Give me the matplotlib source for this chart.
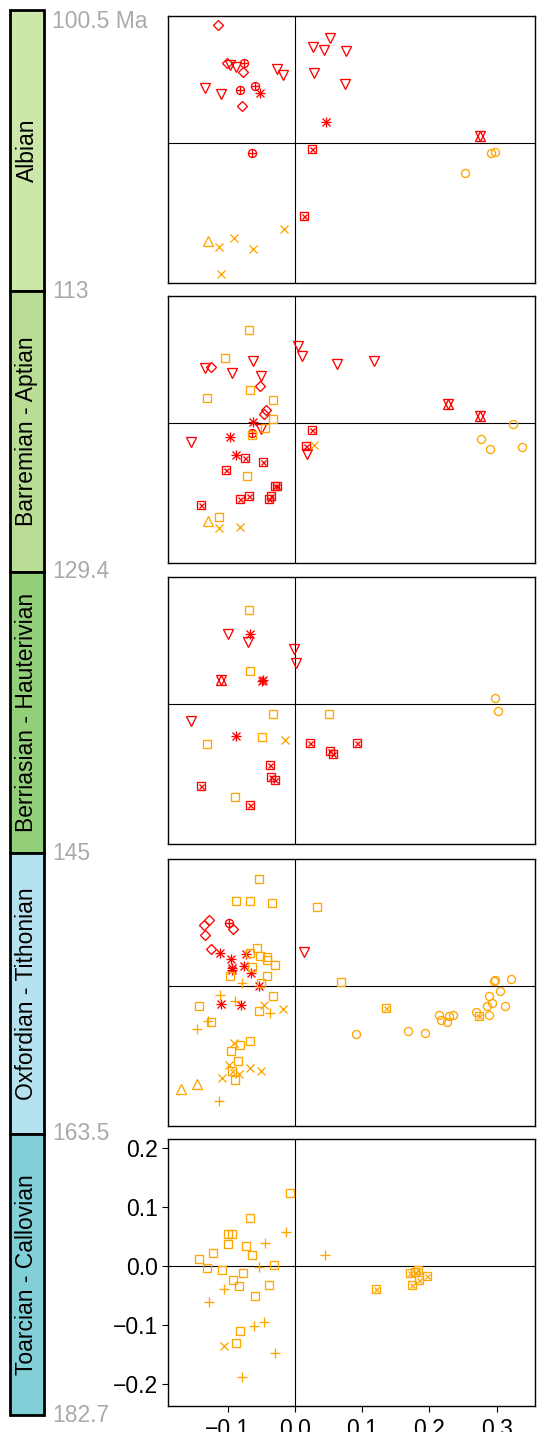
import matplotlib.pyplot as plt

plt.rcParams['font.family'] = ['Liberation Sans', 'DejaVu Sans']

# stages (top to bottom) and their boundary ages
stages = ['Albian', 'Barremian - Aptian', 'Berriasian - Hauterivian',
          'Oxfordian - Tithonian', 'Toarcian - Callovian']
stage_colors = ['#cde6a9', '#badd96', '#93ce79', '#b4e2ee', '#81d0d8']
boundaries = ['100.5 Ma', '113', '129.4', '145', '163.5', '182.7']

# ordination scores per stage: x, y and symbol group
albian_x = [-0.114, -0.101, -0.077, -0.079,
            -0.096, -0.088, -0.133, -0.110, -0.026, -0.017, 0.027, 0.052, 0.044, 0.076, 0.028, 0.075,
            -0.076, -0.081, -0.059, -0.063,
            -0.052, 0.047,
            0.275,
            0.026, 0.013,
            0.291, 0.297, 0.253,
            -0.129,
            -0.112, -0.091, -0.062, -0.016, -0.110]
albian_y = [0.200, 0.137, 0.121, 0.064,
            0.133, 0.130, 0.094, 0.083, 0.126, 0.116, 0.164, 0.179, 0.159, 0.156, 0.120, 0.101,
            0.136, 0.091, 0.098, -0.016,
            0.085, 0.036,
            0.013,
            -0.010, -0.124,
            -0.016, -0.015, -0.050,
            -0.165,
            -0.176, -0.161, -0.180, -0.145, -0.221]
albian_grp = (['diamond'] * 4 + ['tri_down'] * 12 + ['circ_plus'] * 4 + ['asterisk'] * 2
              + ['star'] + ['sqx_red'] * 2 + ['circle'] * 3 + ['tri_up'] + ['cross'] * 5)

barr_x = [-0.068, -0.104, -0.066, -0.131, -0.032, -0.032, -0.045, -0.063, -0.071, -0.112,
          -0.134, -0.062, -0.094, -0.051, -0.050, -0.154, 0.005, 0.010, 0.062, 0.118, 0.018,
          -0.124, -0.052, -0.046, -0.043,
          -0.062, -0.097, -0.088,
          -0.063,
          0.026, 0.016, -0.074, -0.048, -0.102, -0.030, -0.026, -0.068, -0.081, -0.036, -0.039, -0.140,
          0.227, 0.275,
          0.324, 0.276, 0.290, 0.338,
          0.029, -0.112, -0.082,
          -0.129]
barr_y = [0.159, 0.110, 0.057, 0.043, 0.040, 0.008, -0.008, -0.020, -0.090, -0.159,
          0.094, 0.106, 0.086, 0.081, -0.010, -0.031, 0.132, 0.115, 0.100, 0.105, -0.052,
          0.095, 0.064, 0.016, 0.022,
          0.002, -0.023, -0.053,
          -0.016,
          -0.011, -0.039, -0.059, -0.065, -0.080, -0.106, -0.107, -0.124, -0.129, -0.124, -0.129, -0.139,
          0.032, 0.012,
          -0.001, -0.026, -0.043, -0.041,
          -0.036, -0.177, -0.176,
          -0.166]
barr_grp = (['square'] * 10 + ['tri_down'] * 11 + ['diamond'] * 4 + ['asterisk'] * 3
            + ['circ_plus'] + ['sqx_red'] * 12 + ['star'] * 2 + ['circle'] * 4
            + ['cross'] * 3 + ['tri_up'])

berr_x = [-0.068, -0.066, -0.033, 0.051, -0.131, -0.049, -0.089,
          -0.100, -0.069, -0.001, 0.002, -0.154,
          -0.066, -0.049, -0.047, -0.087,
          -0.110,
          -0.015,
          0.022, 0.052, 0.056, 0.093, -0.037, -0.036, -0.030, -0.140, -0.066,
          0.297, 0.302]
berr_y = [0.160, 0.057, -0.016, -0.016, -0.068, -0.056, -0.158,
          0.120, 0.105, 0.093, 0.070, -0.029,
          0.119, 0.039, 0.041, -0.053,
          0.041,
          -0.060,
          -0.065, -0.079, -0.085, -0.065, -0.103, -0.124, -0.129, -0.138, -0.171,
          0.010, -0.012]
berr_grp = (['square'] * 7 + ['tri_down'] * 5 + ['asterisk'] * 4 + ['star'] + ['cross']
            + ['sqx_red'] * 9 + ['circle'] * 2)

oxf_x = [-0.053, -0.088, -0.067, -0.034, 0.033, -0.056, -0.066, -0.052, -0.042, -0.041,
         -0.029, -0.063, -0.041, -0.096, -0.051, 0.068, -0.033, -0.142, -0.054, -0.124,
         -0.067, -0.082, -0.095, -0.085, -0.089,
         -0.093, 0.136, 0.274,
         -0.127, -0.135, -0.134, -0.125, -0.092,
         -0.098,
         -0.111, -0.095, -0.072, -0.075, -0.093, -0.094, -0.065, -0.053, -0.110, -0.080,
         0.014,
         -0.078, -0.111, -0.089, -0.037, -0.129, -0.146, -0.113,
         -0.046, -0.017, -0.091, -0.098, -0.066, -0.050, -0.108, -0.083,
         -0.169, -0.146,
         0.091, 0.168, 0.194, 0.214, 0.218, 0.226, 0.229, 0.235, 0.269, 0.289,
         0.285, 0.293, 0.288, 0.305, 0.313, 0.296, 0.298, 0.322]
oxf_y = [0.182, 0.145, 0.144, 0.142, 0.134, 0.065, 0.056, 0.052, 0.049, 0.045,
         0.037, 0.033, 0.018, 0.017, 0.006, 0.007, -0.016, -0.033, -0.042, -0.060,
         -0.092, -0.099, -0.109, -0.127, -0.159,
         -0.143, -0.037, -0.051,
         0.112, 0.104, 0.087, 0.064, 0.097,
         0.107,
         0.057, 0.047, 0.054, 0.034, 0.031, 0.027, 0.022, 0.001, -0.030, -0.031,
         0.058,
         0.006, -0.014, -0.025, -0.045, -0.059, -0.073, -0.195,
         -0.031, -0.039, -0.097, -0.133, -0.139, -0.143, -0.155, -0.148,
         -0.174, -0.165,
         -0.081, -0.076, -0.080, -0.048, -0.058, -0.061, -0.051, -0.048, -0.043, -0.048,
         -0.033, -0.029, -0.016, -0.008, -0.033, 0.009, 0.011, 0.012]
oxf_grp = (['square'] * 25 + ['sqx_orange'] * 3 + ['diamond'] * 5 + ['circ_plus']
           + ['asterisk'] * 10 + ['tri_down'] + ['plus'] * 7 + ['cross'] * 8
           + ['tri_up'] * 2 + ['circle'] * 18)

toar_x = [-0.007, -0.066, -0.099, -0.094, -0.100, -0.122, -0.073, -0.064, -0.143, -0.130,
          -0.109, -0.077, -0.031, -0.092, -0.083, -0.039, -0.059, -0.082, -0.088,
          -0.013, -0.045, -0.054, 0.045, -0.105, -0.127, -0.046, -0.061, -0.029, -0.079,
          -0.105,
          0.120, 0.171, 0.178, 0.183, 0.174, 0.184, 0.196]
toar_y = [0.125, 0.082, 0.055, 0.055, 0.038, 0.023, 0.034, 0.019, 0.012, -0.003,
          -0.006, -0.011, 0.003, -0.023, -0.034, -0.031, -0.050, -0.110, -0.130,
          0.058, 0.040, -0.002, 0.020, -0.039, -0.060, -0.095, -0.102, -0.147, -0.188,
          -0.136,
          -0.038, -0.012, -0.010, -0.007, -0.031, -0.023, -0.017]
toar_grp = ['square'] * 19 + ['plus'] * 10 + ['cross'] + ['sqx_orange'] * 7

panels = [(albian_x, albian_y, albian_grp), (barr_x, barr_y, barr_grp),
          (berr_x, berr_y, berr_grp), (oxf_x, oxf_y, oxf_grp),
          (toar_x, toar_y, toar_grp)]

RED, ORANGE = '#ff0000', '#ffa500'
group_style = {
    'diamond': (RED, [('D', 5.0)]),
    'tri_down': (RED, [('v', 7.0)]),
    'circ_plus': (RED, [('o', 5.8), ('+', 5.8)]),
    'asterisk': (RED, [('+', 7.0), ('x', 5.2)]),
    'star': (RED, [('^', 7.0), ('v', 7.0)]),
    'sqx_red': (RED, [('s', 5.2), ('x', 3.6)]),
    'sqx_orange': (ORANGE, [('s', 5.2), ('x', 3.6)]),
    'circle': (ORANGE, [('o', 5.8)]),
    'tri_up': (ORANGE, [('^', 7.0)]),
    'cross': (ORANGE, [('x', 5.8)]),
    'square': (ORANGE, [('s', 5.2)]),
    'plus': (ORANGE, [('+', 7.0)]),
}

W, H = 538, 1432
fig = plt.figure(figsize=(W / 100, H / 100), dpi=100)


def box(left, top, width, height):
    return [left / W, 1 - (top + height) / H, width / W, height / H]


def fmt(v, pos):
    return f'{v:.1f}'.replace('-', '\u2212')


FS = 16.5
tops = [16, 296, 577, 859, 1139]
for i, (xs, ys, grp) in enumerate(panels):
    ax = fig.add_axes(box(167.7, tops[i], 367.3, 267))
    ax.set_xlim(-0.189, 0.357)
    ax.set_ylim(-0.237, 0.216)
    ax.axhline(0, color='black', lw=0.8, zorder=1)
    ax.axvline(0, color='black', lw=0.8, zorder=1)
    for g in group_style:
        px = [x for x, k in zip(xs, grp) if k == g]
        py = [y for y, k in zip(ys, grp) if k == g]
        if not px:
            continue
        col, marks = group_style[g]
        for m, s in marks:
            ax.plot(px, py, ls='none', marker=m, ms=s, mfc='none', mec=col,
                    mew=0.95, zorder=3)
    for sp in ax.spines.values():
        sp.set_linewidth(1.0)
    if i < len(panels) - 1:
        ax.set_xticks([])
        ax.set_yticks([])
    else:
        ax.set_xticks([-0.1, 0.0, 0.1, 0.2, 0.3])
        ax.set_yticks([-0.2, -0.1, 0.0, 0.1, 0.2])
        ax.xaxis.set_major_formatter(plt.FuncFormatter(fmt))
        ax.yaxis.set_major_formatter(plt.FuncFormatter(fmt))
        ax.tick_params(length=4, width=0.8, labelsize=FS, pad=3)
        ax.tick_params(axis='x', pad=5)

# stratigraphic column on the left
bar = fig.add_axes(box(10, 10, 34, 1405))
bar.set_xlim(0, 1)
bar.set_ylim(len(stages), 0)
bar.axis('off')
for i, (name, c) in enumerate(zip(stages, stage_colors)):
    bar.bar(0.5, 1, bottom=i, width=1, color=c, edgecolor='black', linewidth=2.0,
            clip_on=False)
    bar.text(0.5, i + 0.5, name, rotation=90, ha='center', va='center', fontsize=FS)

for i, lab in enumerate(boundaries):
    bar.text(1.25, i, lab, ha='left', va='top' if i == 0 else 'center',
             fontsize=FS, color='#aaaaaa', clip_on=False)

fig.savefig('out.png', dpi=100)
